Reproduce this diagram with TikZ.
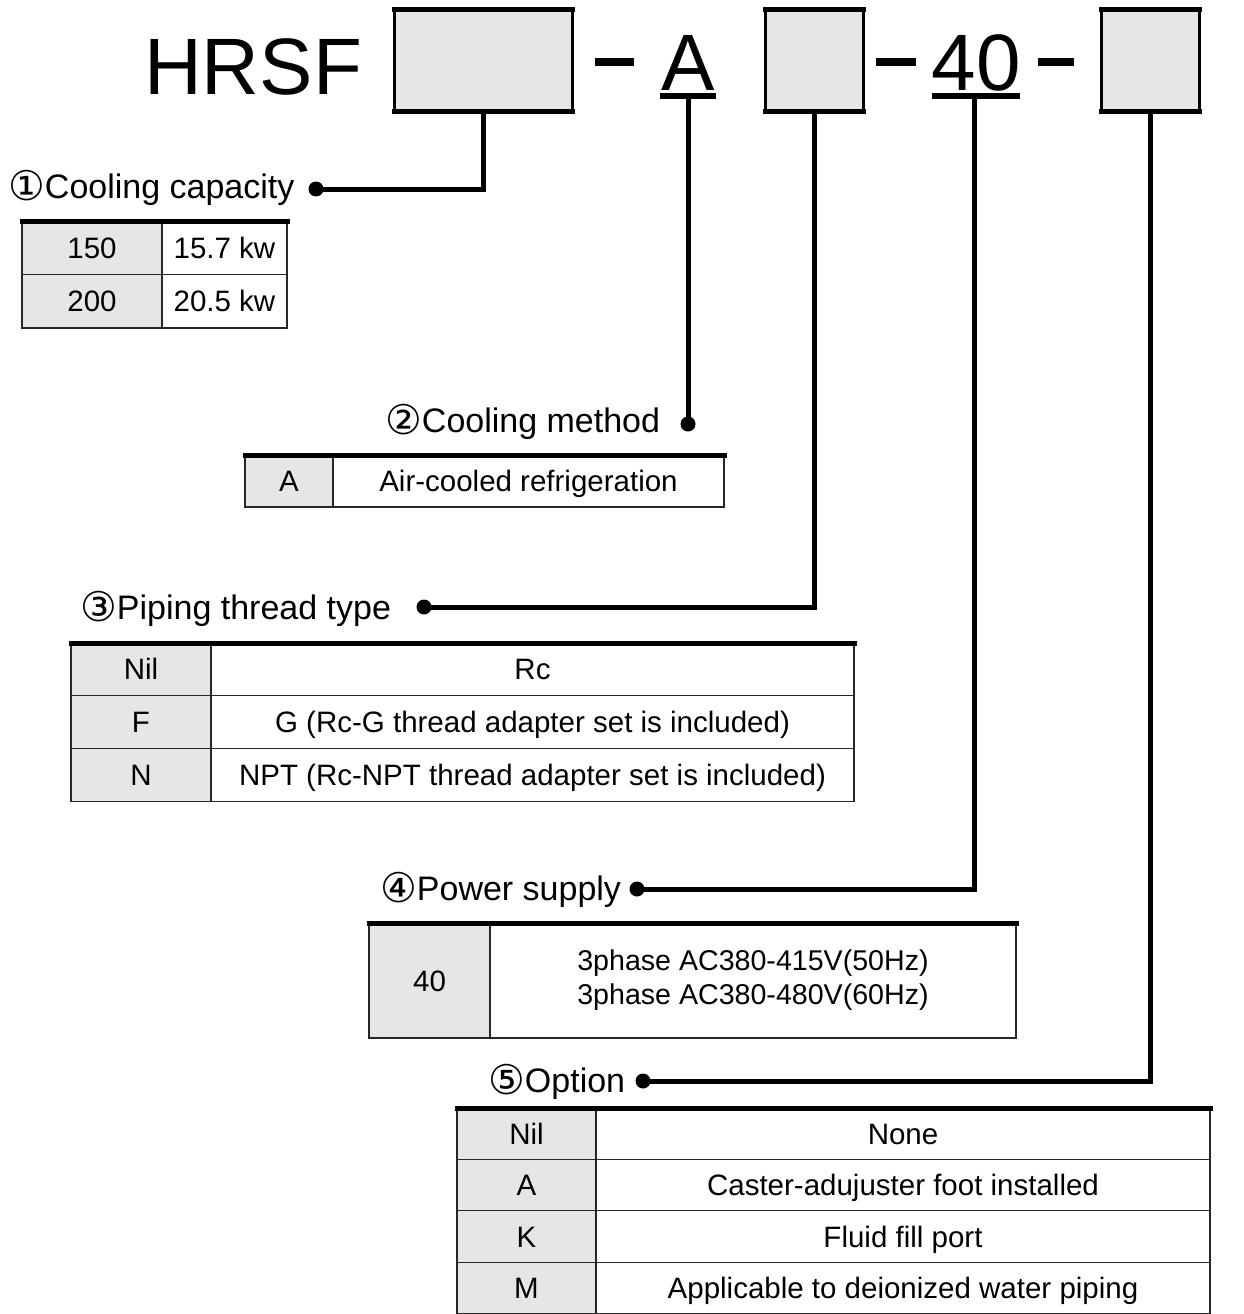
\documentclass[tikz,border=0pt]{standalone}
\usepackage{fontspec}
\setmainfont{Liberation Sans}
\newfontfamily\circfont{DejaVu Sans}
\usetikzlibrary{calc}
\definecolor{cellgray}{RGB}{230,230,230}
\newcommand{\circnum}[1]{\raisebox{-2.5pt}{\circfont\fontsize{41}{41}\selectfont #1}}
\tikzset{
	hdrbox/.style={draw, line width=3, fill=cellgray, anchor=north west, outer sep=0, inner sep=0},
	hdrtxt/.style={font=\fontsize{80}{96}\selectfont, inner sep=0},
	lbl/.style={font=\fontsize{34}{40}\selectfont, inner sep=0, anchor=base west},
	cellbase/.style={draw=black!85, line width=1.2, fill=cellgray, anchor=north west, outer sep=0, inner sep=0, font=\fontsize{29.5}{34}\selectfont},
	keycell/.style={cellbase, text height=21.2, text depth=0},
	valcell/.style={keycell, fill=white},
	conn/.style={line width=5},
	topbar/.style={line width=5, line cap=rect},
}

\begin{document}
\begin{tikzpicture}[x=1pt, y=-1pt]
			%%%%% START %%%%%
			\useasboundingbox (0,0) rectangle (1243,1314);
			
			% model code
			\node[hdrtxt, anchor=base west] (hrsf) at (144,95) {HRSF};
			\node[hdrbox, minimum width=178, minimum height=101] (box1) at (394,10) {};
			\node[hdrbox, minimum width=98, minimum height=101] (box2) at (765,10) {};
			\node[hdrbox, minimum width=98, minimum height=101] (box3) at (1101,10) {};
			\foreach \b in {box1,box2,box3} {
				\draw[topbar] (\b.north west) -- (\b.north east);
				\draw[topbar] (\b.south west) -- (\b.south east);
			}
			\node[hdrtxt, anchor=base] (hA) at (688,90) {A};
			\node[hdrtxt, anchor=base] (h40) at (976,90) {40};
			\draw[line width=6] (660,96) -- (716,96);
			\draw[line width=6] (932,96) -- (1020,96);
			\draw[line width=8] (595,62) -- (634,62);
			\draw[line width=8] (876,62) -- (916,62);
			\draw[line width=8] (1038,62) -- (1074,62);
			
			\coordinate (uA) at (688,96);
			\coordinate (u40) at (974,96);
			\coordinate (d1) at (316,189);
			\coordinate (d2) at (688,424);
			\coordinate (d3) at (424,607);
			\coordinate (d4) at (637,889);
			\coordinate (d5) at (643,1081);
			
			% connectors
			\draw[conn] (box1.south) |- (d1);
			\draw[conn] (uA) -- (d2);
			\draw[conn] (box2.south) |- (d3);
			\draw[conn] (u40) |- (d4);
			\draw[conn] (box3.south) |- (d5);
			\foreach \d in {d1,d2,d3,d4,d5} \fill (\d) circle[radius=7.5];
			
			% labels
			\node[lbl] (lab1) at (8,198) {\circnum{①}Cooling capacity};
			\node[lbl] (lab2) at (385,432) {\circnum{②}Cooling method};
			\node[lbl] (lab3) at (80,619) {\circnum{③}Piping thread type};
			\node[lbl] (lab4) at (380,900) {\circnum{④}Power supply};
			\node[lbl] (lab5) at (488,1092) {\circnum{⑤}Option};
			
			% (1) cooling capacity
			\node[keycell, minimum width=140, minimum height=53.5] (t1k1) at (22,221) {150};
			\node[valcell, minimum width=125, minimum height=53.5] (t1v1) at (162,221) {15.7 kw};
			\node[keycell, minimum width=140, minimum height=53.5] (t1k2) at (22,274.5) {200};
			\node[valcell, minimum width=125, minimum height=53.5] (t1v2) at (162,274.5) {20.5 kw};
			\draw[topbar] (22,221) -- (287,221);
			
			% (2) cooling method
			\node[keycell, minimum width=88, minimum height=52] (t2k1) at (245,455) {A};
			\node[valcell, minimum width=391, minimum height=52] (t2v1) at (333,455) {Air-cooled refrigeration};
			\draw[topbar] (245,455) -- (724,455);
			
			% (3) piping thread type
			\node[keycell, minimum width=140, minimum height=52.7] (t3k1) at (71,643) {Nil};
			\node[valcell, minimum width=643, minimum height=52.7] (t3v1) at (211,643) {Rc};
			\node[keycell, minimum width=140, minimum height=52.7] (t3k2) at (71,695.7) {F};
			\node[valcell, minimum width=643, minimum height=52.7] (t3v2) at (211,695.7) {G (Rc-G thread adapter set is included)};
			\node[keycell, minimum width=140, minimum height=52.7] (t3k3) at (71,748.4) {N};
			\node[valcell, minimum width=643, minimum height=52.7] (t3v3) at (211,748.4) {NPT (Rc-NPT thread adapter set is included)};
			\draw[topbar] (71,643) -- (854,643);
			
			% (4) power supply
			\node[keycell, minimum width=121, minimum height=115] (t4k1) at (369,923) {40};
			\node[cellbase, fill=white, minimum width=526, minimum height=115, align=center, font=\fontsize{28.6}{34}\selectfont] (t4v1) at (490,923) {3phase AC380-415V(50Hz)\\3phase AC380-480V(60Hz)};
			\draw[topbar] (369,923) -- (1016,923);
			
			% (5) option
			\node[keycell, minimum width=139, minimum height=51.4] (t5k1) at (457,1108) {Nil};
			\node[valcell, minimum width=614, minimum height=51.4] (t5v1) at (596,1108) {None};
			\node[keycell, minimum width=139, minimum height=51.4] (t5k2) at (457,1159.4) {A};
			\node[valcell, minimum width=614, minimum height=51.4] (t5v2) at (596,1159.4) {Caster-adujuster foot installed};
			\node[keycell, minimum width=139, minimum height=51.4] (t5k3) at (457,1210.8) {K};
			\node[valcell, minimum width=614, minimum height=51.4] (t5v3) at (596,1210.8) {Fluid fill port};
			\node[keycell, minimum width=139, minimum height=51.4] (t5k4) at (457,1262.2) {M};
			\node[valcell, minimum width=614, minimum height=51.4] (t5v4) at (596,1262.2) {Applicable to deionized water piping};
			\draw[topbar] (457,1108) -- (1210,1108);
			
			%%%%% END %%%%%
\end{tikzpicture}
\end{document}
